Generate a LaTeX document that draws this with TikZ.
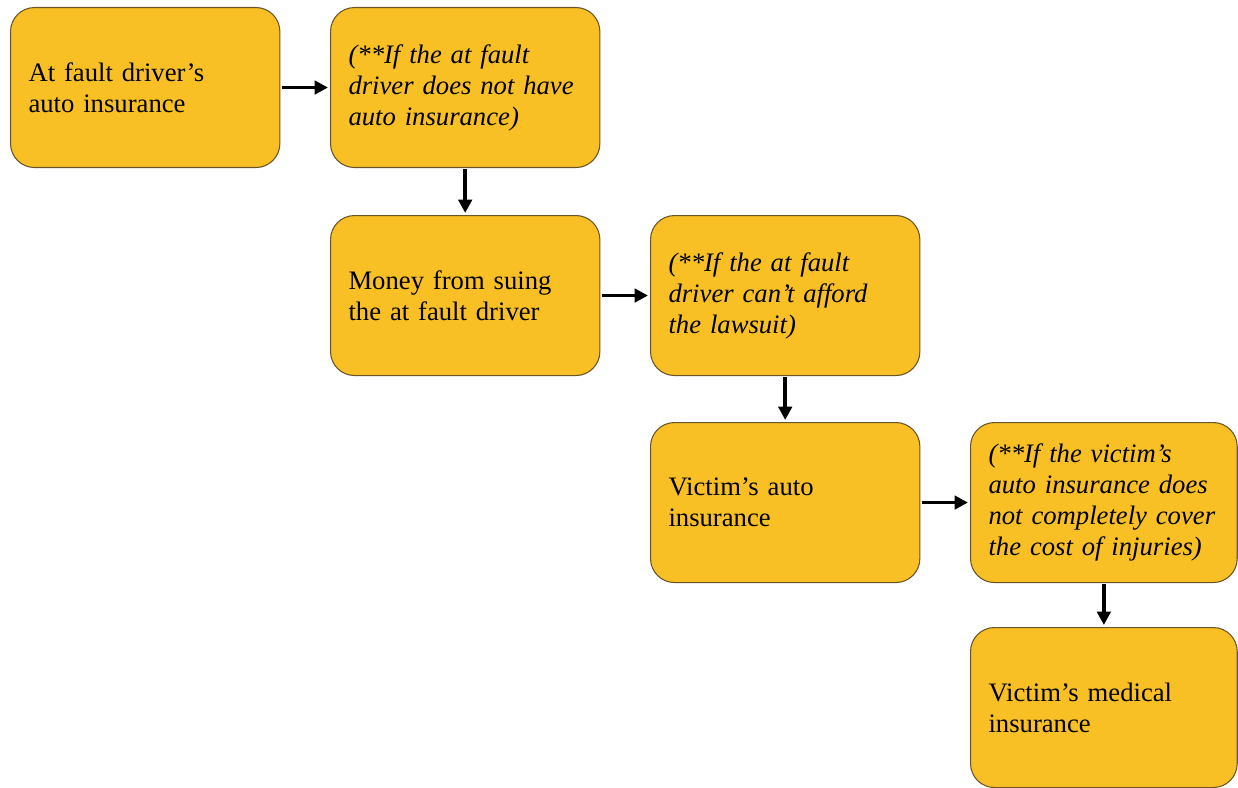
\documentclass[tikz,border=0pt]{standalone}
\usepackage{fontspec}
\setmainfont{Liberation Serif}
\usetikzlibrary{arrows.meta}
\definecolor{boxfill}{RGB}{249,192,37}
\definecolor{boxline}{RGB}{105,85,40}
\begin{document}
\begin{tikzpicture}[x=0.75pt,y=-0.75pt,
  stepbox/.style={draw=boxline, line width=0.8pt, fill=boxfill, rounded corners=18pt,
    minimum width=202pt, minimum height=120pt, text width=175pt, inner xsep=13.5pt, inner ysep=10pt,
    align=left, font=\fontsize{20}{23.25}\selectfont, anchor=north west},
  conn/.style={line width=2.6pt, -{Triangle[length=10pt,width=10pt]}, shorten <=1pt, shorten >=1.5pt}]
\useasboundingbox (0,0) rectangle (1238,788);
\node[stepbox] (a) at (10,7) {At fault driver’s\\auto insurance};
\node[stepbox] (b) at (330,7) {\itshape (**If the at fault\\driver does not have\\auto insurance)};
\node[stepbox] (c) at (330,215) {Money from suing\\the at fault driver};
\node[stepbox] (d) at (650,215) {\itshape (**If the at fault\\driver can’t afford\\the lawsuit)};
\node[stepbox] (e) at (650,422) {Victim’s auto\\insurance};
\node[stepbox, text width=173pt, minimum width=200pt] (f) at (970,422) {\itshape (**If the victim’s\\auto insurance does\\not completely cover\\the cost of injuries)};
\node[stepbox, text width=173pt, minimum width=200pt] (g) at (970,627) {Victim’s medical\\insurance};
\draw[conn] (a.east) -- (b.west);
\draw[conn] (b.south) -- (c.north);
\draw[conn] (c.east) -- (d.west);
\draw[conn] (d.south) -- (e.north);
\draw[conn] (e.east) -- (f.west);
\draw[conn] (f.south) -- (g.north);
\end{tikzpicture}
\end{document}
